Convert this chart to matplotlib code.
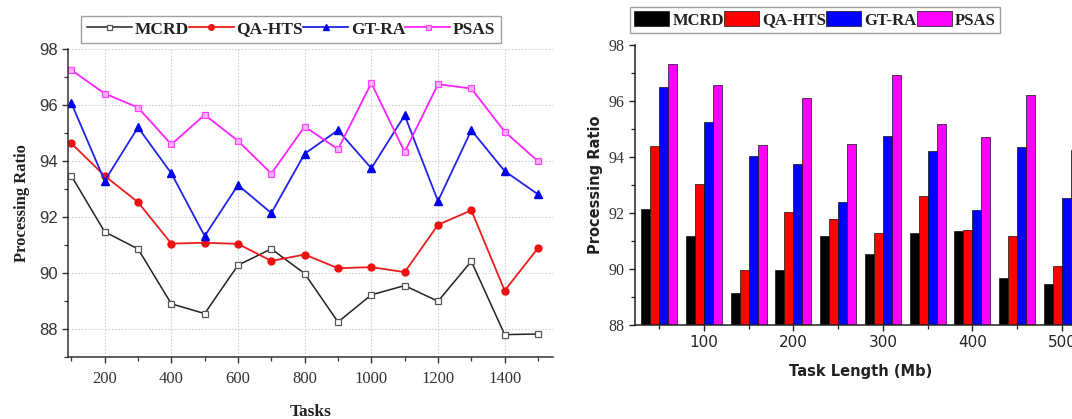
import matplotlib
matplotlib.use("Agg")
import matplotlib.pyplot as plt
import numpy as np
from matplotlib.ticker import MultipleLocator

# ---------------- data ----------------
tasks = [100, 200, 300, 400, 500, 600, 700, 800, 900, 1000, 1100, 1200, 1300, 1400, 1500]
line_mcrd = [93.47, 91.47, 90.86, 88.90, 88.55, 90.28, 90.86, 89.98, 88.25, 89.22, 89.55, 88.99, 90.42, 87.80, 87.82]
line_qahts = [94.63, 93.47, 92.53, 91.05, 91.08, 91.04, 90.43, 90.66, 90.17, 90.21, 90.03, 91.72, 92.24, 89.37, 90.89]
line_gtra = [96.07, 93.29, 95.20, 93.56, 91.32, 93.14, 92.14, 94.26, 95.10, 93.74, 95.63, 92.57, 95.10, 93.64, 92.81]
line_psas = [97.25, 96.41, 95.91, 94.59, 95.65, 94.72, 93.55, 95.23, 94.42, 96.78, 94.32, 96.74, 96.59, 95.05, 93.99]

task_length = [50, 100, 150, 200, 250, 300, 350, 400, 450, 500]
bar_mcrd = [92.13, 91.17, 89.16, 89.97, 91.17, 90.52, 91.30, 91.36, 89.69, 89.48]
bar_qahts = [94.40, 93.02, 89.97, 92.05, 91.78, 91.29, 92.62, 91.41, 91.18, 90.11]
bar_gtra = [96.50, 95.24, 94.02, 93.74, 92.38, 94.76, 94.22, 92.09, 94.34, 92.55]
bar_psas = [97.33, 96.56, 94.44, 96.12, 94.47, 96.92, 95.18, 94.72, 96.23, 94.26]

names = ["MCRD", "QA-HTS", "GT-RA", "PSAS"]

W, H = 1072, 419
fig = plt.figure(figsize=(W / 100, H / 100), dpi=100)

def fx(px):
    return px / W

def fy(py):
    return 1 - py / H

serif = "Liberation Serif"
sans = "Liberation Sans"

# ---------------- left chart ----------------
ax1 = fig.add_axes([fx(68), fy(357), fx(553 - 68), fy(49) - fy(357)])
ax1.plot(tasks, line_mcrd, color="#222222", lw=1.1, marker="s", ms=4.5,
         mfc="white", mec="#555555", mew=0.9, label=names[0])
ax1.plot(tasks, line_qahts, color="#ee1c1c", lw=1.3, marker="o", ms=5,
         mfc="#ee1111", mec="#ee1111", label=names[1])
ax1.plot(tasks, line_gtra, color="#2222ee", lw=1.3, marker="^", ms=5.5,
         mfc="#0000ee", mec="#0000ee", label=names[2])
ax1.plot(tasks, line_psas, color="#ff22ff", lw=1.3, marker="s", ms=4.5,
         mfc="#ffb0ff", mec="#ff44ff", mew=0.9, label=names[3])
ax1.set_xlim(90, 1545)
ax1.set_ylim(87, 98)
ax1.xaxis.set_major_locator(MultipleLocator(200))
ax1.xaxis.set_minor_locator(MultipleLocator(100))
ax1.yaxis.set_major_locator(MultipleLocator(2))
ax1.yaxis.set_minor_locator(MultipleLocator(1))
ax1.spines["top"].set_visible(False)
ax1.spines["right"].set_visible(False)
for s in ("left", "bottom"):
    ax1.spines[s].set_color("#333333")
    ax1.spines[s].set_linewidth(1.1)
ax1.tick_params(which="both", direction="out", color="#333333")
ax1.tick_params(which="major", length=4, width=1.0)
ax1.tick_params(which="minor", length=3, width=0.9)
ax1.tick_params(axis="x", pad=6)
ax1.grid(True, which="major", color="#d0d0d0", ls=(0, (1.5, 1.5)), lw=0.8)
for lab in ax1.get_xticklabels():
    lab.set_fontfamily(serif)
    lab.set_fontsize(12)
    lab.set_color("#333333")
for lab in ax1.get_yticklabels():
    lab.set_fontfamily(sans)
    lab.set_fontsize(12)
    lab.set_color("#333333")
ax1.set_xlabel("Tasks", fontfamily=serif, fontweight="bold", fontsize=12.5, color="#222222", labelpad=12)
ax1.set_ylabel("Processing Ratio", fontfamily=serif, fontweight="bold", fontsize=12, color="#222222", labelpad=6)
leg1 = fig.legend(*ax1.get_legend_handles_labels(), loc="center", ncol=4,
                  bbox_to_anchor=(fx(291), fy(29.5)), frameon=True, fancybox=False,
                  edgecolor="#888888", handlelength=2.6, handletextpad=0.15,
                  columnspacing=0.0, borderpad=0.3, markerscale=0.8,
                  prop={"family": serif, "weight": "bold", "size": 12.5})
leg1.get_frame().set_linewidth(1.0)
for t in leg1.get_texts():
    t.set_color("#222222")

# ---------------- right chart ----------------
ax2 = fig.add_axes([fx(635), fy(325), fx(451), fy(45) - fy(325)])
bw = 10
offs = [-15, -5, 5, 15]
cols = ["#000000", "#ff0000", "#0000ff", "#ff00ff"]
series = [bar_mcrd, bar_qahts, bar_gtra, bar_psas]
x = np.array(task_length, dtype=float)
for i in range(4):
    ax2.bar(x + offs[i], np.array(series[i]) - 88, bottom=88, width=bw,
            color=cols[i], edgecolor="#111111", linewidth=0.5, label=names[i])
ax2.set_xlim(23, 527)
ax2.set_ylim(88, 98)
ax2.xaxis.set_major_locator(MultipleLocator(100))
ax2.xaxis.set_minor_locator(MultipleLocator(50))
ax2.yaxis.set_major_locator(MultipleLocator(2))
ax2.yaxis.set_minor_locator(MultipleLocator(1))
ax2.spines["top"].set_visible(False)
ax2.spines["right"].set_visible(False)
for s in ("left", "bottom"):
    ax2.spines[s].set_color("#222222")
    ax2.spines[s].set_linewidth(1.1)
ax2.tick_params(which="both", direction="out", color="#222222")
ax2.tick_params(which="major", length=4, width=1.0)
ax2.tick_params(which="minor", length=3, width=0.9)
for lab in ax2.get_xticklabels():
    lab.set_fontfamily("DejaVu Sans")
    lab.set_fontsize(11)
    lab.set_color("#222222")
for lab in ax2.get_yticklabels():
    lab.set_fontfamily(serif)
    lab.set_fontsize(11.5)
    lab.set_color("#333333")
ax2.set_xlabel("Task Length (Mb)", fontfamily="DejaVu Sans", fontweight="bold", fontsize=10.5,
               color="#222222", labelpad=10)
ax2.set_ylabel("Processing Ratio", fontfamily="DejaVu Sans", fontweight="bold", fontsize=10.5,
               color="#222222", labelpad=4)
leg2 = fig.legend(*ax2.get_legend_handles_labels(), loc="center", ncol=4,
                  bbox_to_anchor=(fx(815), fy(20)), frameon=True, fancybox=False,
                  edgecolor="#888888", handlelength=2.1, handleheight=1.0,
                  handletextpad=0.2, columnspacing=0.0, borderpad=0.25,
                  prop={"family": serif, "weight": "bold", "size": 12})
leg2.get_frame().set_linewidth(1.0)
for t in leg2.get_texts():
    t.set_color("#222222")

fig.savefig("out.png", dpi=100)
